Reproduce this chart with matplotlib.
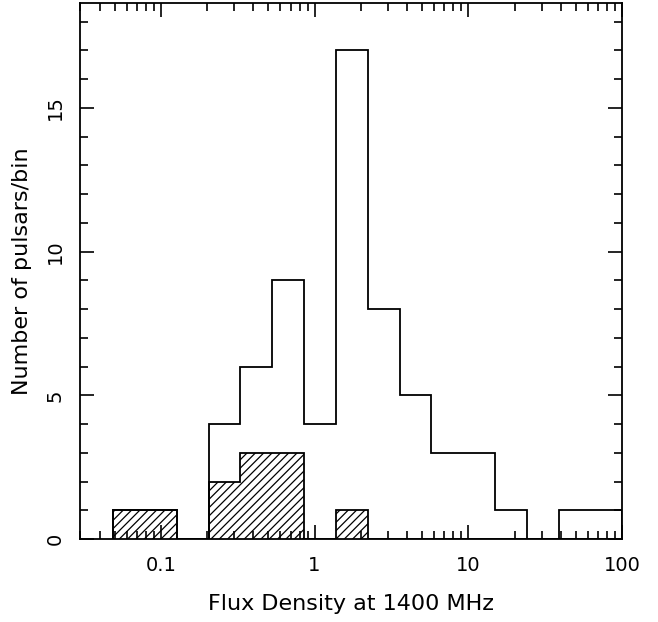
import numpy as np
import matplotlib
matplotlib.use("Agg")
import matplotlib.pyplot as plt
from matplotlib.ticker import LogLocator, FixedLocator, MultipleLocator, NullFormatter

# log10 of bin edges (flux density, mJy)
log_edges = [-1.31, -1.103, -0.896, -0.689, -0.482, -0.275, -0.068, 0.139,
             0.346, 0.553, 0.760, 0.967, 1.174, 1.381, 1.588, 1.795, 2.002]
# all pulsars per bin
total_counts = [1, 1, 0, 4, 6, 9, 4, 17, 8, 5, 3, 3, 1, 0, 1, 1]
# hatched subset per bin
hatched_counts = [1, 1, 0, 2, 3, 3, 0, 1, 0, 0, 0, 0, 0, 0, 0, 0]

x_ticks = [0.1, 1, 10, 100]
x_tick_labels = ["0.1", "1", "10", "100"]
y_ticks = [0, 5, 10, 15]

plt.rcParams['hatch.linewidth'] = 0.9
edges = 10 ** np.array(log_edges)

fig = plt.figure(figsize=(6.58, 6.22), dpi=100)
ax = fig.add_axes([80 / 658, 1 - 539 / 622, 542 / 658, 536 / 622])

ax.stairs(hatched_counts, edges, fill=True, facecolor='white',
          edgecolor='black', hatch='////', linewidth=0, baseline=0)
ax.stairs(hatched_counts, edges, fill=False, color='black', linewidth=1.3)
ax.stairs(total_counts, edges, fill=False, color='black', linewidth=1.3)

ax.set_xscale('log')
ax.set_xlim(0.0298, 100)
ax.set_ylim(0, 18.65)

ax.xaxis.set_major_locator(FixedLocator(x_ticks))
ax.set_xticklabels(x_tick_labels)
ax.xaxis.set_minor_locator(LogLocator(base=10, subs=np.arange(2, 10)))
ax.xaxis.set_minor_formatter(NullFormatter())
ax.yaxis.set_major_locator(FixedLocator(y_ticks))
ax.yaxis.set_minor_locator(MultipleLocator(1))

ax.tick_params(which='both', direction='in', top=True, right=True,
               width=1.2, color='black')
ax.tick_params(which='major', length=10)
ax.tick_params(which='minor', length=6)
ax.tick_params(axis='x', which='major', labelsize=14, pad=12)
ax.tick_params(axis='y', which='major', labelsize=14, pad=11, labelrotation=90)
for lab in ax.get_yticklabels():
    lab.set_verticalalignment('center')

for s in ax.spines.values():
    s.set_linewidth(1.3)

ax.set_xlabel("Flux Density at 1400 MHz", fontsize=16, labelpad=14)
ax.set_ylabel("Number of pulsars/bin", fontsize=16, labelpad=10)

fig.savefig("out.png", dpi=100)
